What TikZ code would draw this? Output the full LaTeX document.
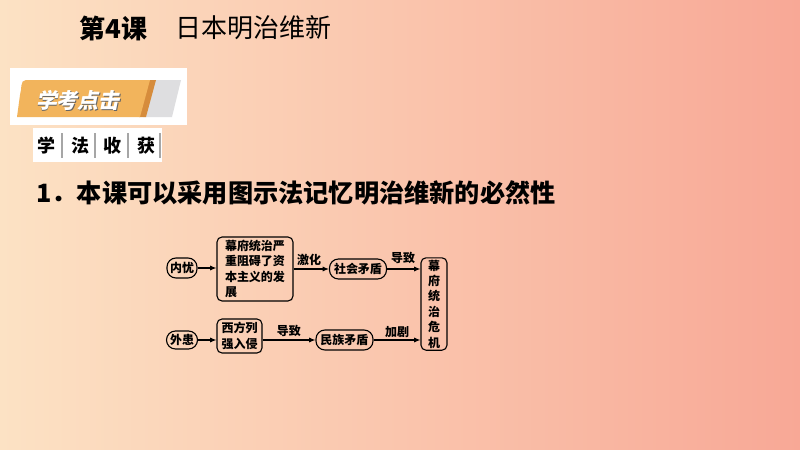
\documentclass[tikz,border=0pt]{standalone}
\usepackage{fontspec}
\setmainfont{Noto Sans CJK SC}
\usetikzlibrary{arrows.meta}
\definecolor{bgl}{RGB}{252,226,196}
\definecolor{bgr}{RGB}{248,168,150}
\definecolor{bannerorange}{RGB}{242,180,92}
\definecolor{bannerdark}{RGB}{214,140,60}
\definecolor{bannergrey}{RGB}{222,222,224}
\tikzset{
  box/.style={draw=black, line width=0.55pt, rounded corners=2.5pt, inner sep=1pt, align=left, font=\fontsize{6}{7.6}\selectfont\bfseries},
  pill/.style={box, rounded corners=4.5pt},
  conn/.style={line width=0.55pt, -{Latex[length=3.2pt,width=2.6pt]}},
  lbl/.style={font=\fontsize{6}{7}\selectfont\bfseries, inner sep=0pt}
}
\begin{document}
\begin{tikzpicture}[x=0.5pt,y=-0.5pt]
\useasboundingbox (0,0) rectangle (800,450);
\shade[left color=bgl, right color=bgr] (0,0) rectangle (800,450);
% title
\node[anchor=west, inner sep=0pt, font=\fontsize{13}{13}\selectfont\bfseries] (t1) at (79,28) {第4课};
\node[anchor=west, inner sep=0pt, font=\fontsize{13}{13}\selectfont] (t2) at (175,28) {日本明治维新};
% banner
\fill[white] (10,68) rectangle (187,125);
\fill[bannergrey] (153,80) -- (181,80) -- (172,117) -- (143,117) -- cycle;
\fill[bannerdark] (149,80) -- (156,80) -- (146,117) -- (139,117) -- cycle;
\fill[bannerorange] (26,80) -- (150,80) -- (140,117) -- (17,117) -- (20,95) to[out=70,in=180] cycle;
\node[inner sep=0pt, font=\fontsize{10.5}{10.5}\selectfont\bfseries, text=black!60] at (79,101) {\addfontfeatures{FakeSlant=0.2}学考点击};
\node[inner sep=0pt, font=\fontsize{10.5}{10.5}\selectfont\bfseries, text=white] (bt) at (78,100) {\addfontfeatures{FakeSlant=0.2}学考点击};
% 学法收获
\fill[white] (33,128) rectangle (162,162);
\foreach \x/\c in {47/学,80/法,113/收,146/获}{
  \node[inner sep=0pt, font=\fontsize{9}{9}\selectfont\bfseries] at (\x,146) {\c};
}
\foreach \x in {62,95,128,160}{
  \draw[black!35, line width=1pt] (\x,133) -- (\x,158);
}
% question
\node[anchor=west, inner sep=0pt, font=\fontsize{12.6}{12.6}\selectfont\bfseries] (q) at (36,193) {1．本课可以采用图示法记忆明治维新的必然性};
% diagram
\node[pill, minimum width=15pt, minimum height=10pt] (ny) at (182,268) {内忧};
\node[box, minimum width=38pt, minimum height=32pt] (big) at (255,269) {幕府统治严\\重阻碍了资\\本主义的发\\展};
\node[pill, minimum width=28.5pt, minimum height=10pt] (sh) at (358,269) {社会矛盾};
\node[box, minimum width=13pt, minimum height=46pt, align=center, font=\fontsize{6}{7.7}\selectfont\bfseries] (wj) at (434,304) {幕\\府\\统\\治\\危\\机};
\node[pill, minimum width=15.5pt, minimum height=9pt] (wh) at (182,340) {外患};
\node[box, minimum width=22.5pt, minimum height=17pt, font=\fontsize{6}{7.8}\selectfont\bfseries] (xf) at (239.5,336) {西方列\\强入侵};
\node[pill, minimum width=28.5pt, minimum height=10pt] (mz) at (344.5,340) {民族矛盾};
\draw[conn] (ny.east) -- (big.west |- ny.east);
\draw[conn] (big.east |- sh.west) -- (sh.west);
\draw[conn] (sh.east) -- (wj.west |- sh.east);
\draw[conn] (wh.east) -- (xf.west |- wh.east);
\draw[conn] (xf.east |- mz.west) -- (mz.west);
\draw[conn] (mz.east) -- (wj.west |- mz.east);
\node[lbl] (l1) at (309,260) {激化};
\node[lbl] (l2) at (403,258) {导致};
\node[lbl] (l3) at (289,331) {导致};
\node[lbl] (l4) at (397,332) {加剧};
\end{tikzpicture}
\end{document}
